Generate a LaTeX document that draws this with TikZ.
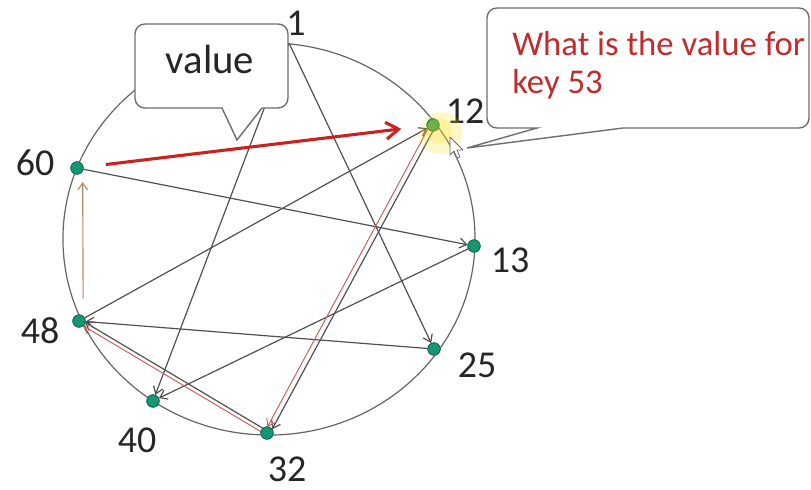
\documentclass[tikz,border=0pt]{standalone}
\usepackage{fontspec}
\setmainfont{Carlito}
\usetikzlibrary{arrows.meta}
\definecolor{edgegray}{RGB}{80,80,80}
\definecolor{ringgray}{RGB}{100,100,100}
\definecolor{dotgreen}{RGB}{22,150,115}
\definecolor{dotedge}{RGB}{15,100,80}
\definecolor{pathred}{RGB}{200,35,30}
\definecolor{thinred}{RGB}{205,95,90}
\definecolor{upbrown}{RGB}{190,130,105}
\definecolor{qred}{RGB}{192,45,45}
\definecolor{boxgray}{RGB}{110,110,110}
\begin{document}
\begin{tikzpicture}[x=0.025cm,y=-0.025cm,
  dot/.style={circle,fill=dotgreen,draw=dotedge,line width=0.5pt,inner sep=0pt,minimum size=0.31cm},
  lbl/.style={font=\fontsize{27}{27}\selectfont,text=black!85,anchor=base,inner sep=0pt},
  finger/.style={draw=edgegray,line width=0.85pt,-{Straight Barb[length=5pt,width=7pt]}},
  hop/.style={draw=thinred,line width=0.7pt,-{Straight Barb[length=5pt,width=7pt]}},
  reply/.style={draw=pathred,line width=2.2pt,-{Straight Barb[length=9pt,width=12pt]}},
  upward/.style={draw=upbrown,line width=0.8pt,-{Straight Barb[length=5pt,width=7pt]}},
  callout/.style={draw=boxgray,fill=white,line width=1pt},
]
\useasboundingbox (0,0) rectangle (811,489);

% ring
\draw[ringgray,line width=0.85pt] (269,239) ellipse [x radius=5.15cm, y radius=4.9cm];

% nodes
\coordinate (n1) at (289,43);
\node[dot] (n12) at (433,125) {};
\node[dot] (n13) at (474,246) {};
\node[dot] (n25) at (434,349) {};
\node[dot] (n32) at (267,433) {};
\node[dot] (n40) at (153,401) {};
\node[dot] (n48) at (79,321) {};
\node[dot] (n60) at (77,168) {};

% finger edges
\draw[finger] (n1) -- (n25);
\draw[finger] (n1) -- (n40);
\draw[finger] (n60) -- (n13);
\draw[finger] (n48) -- (n12);
\draw[finger] (n25) -- (n48);
\draw[finger] (n13) -- (n40);
\draw[finger,shorten <=4pt,shorten >=4pt] ([xshift=1.8pt,yshift=-0.8pt]n12.center) -- ([xshift=1.8pt,yshift=-0.8pt]n32.center);
\draw[finger,shorten <=4pt,shorten >=4pt] ([xshift=0.7pt,yshift=1.2pt]n32.center) -- ([xshift=0.7pt,yshift=1.2pt]n48.center);

% lookup path
\draw[hop,shorten <=4pt,shorten >=4pt] ([xshift=-1.6pt,yshift=0.8pt]n12.center) -- ([xshift=-1.6pt,yshift=0.8pt]n32.center);
\draw[hop,shorten <=4pt,shorten >=4pt] ([xshift=-0.7pt,yshift=-1.2pt]n32.center) -- ([xshift=-0.7pt,yshift=-1.2pt]n48.center);
\draw[upward,shorten <=16pt,shorten >=10pt] ([xshift=3pt]n48.center) -- ([xshift=4pt]n60.center);
\draw[reply,shorten <=16pt,shorten >=18pt] (n60) -- (n12);

% redraw dots on top
\foreach \n/\p in {a/{(433,125)},b/{(474,246)},c/{(434,349)},d/{(267,433)},e/{(153,401)},f/{(79,321)},g/{(77,168)}}
  \node[dot] (top\n) at \p {};

% callout "value"
\draw[callout] (237,140) -- (262,108) {[rounded corners=7pt] -- (288,108) -- (288,24) -- (135,24) -- (135,108)} -- (222,108) -- cycle;
\node[font=\fontsize{29}{29}\selectfont,anchor=base,text=black!85,inner sep=0pt] (val) at (210,73) {value};

% callout question
\draw[callout] (467,148) -- (623,128) {[rounded corners=7pt] -- (809,128) -- (809,8) -- (487,8) -- (487,128)} -- (537,128) -- cycle;
\node[anchor=base west,text=qred,font=\fontsize{24.7}{24.7}\selectfont,inner sep=0pt] (q1) at (512,55) {What is the value for};
\node[anchor=base west,text=qred,font=\fontsize{24.7}{24.7}\selectfont,inner sep=0pt] (q2) at (512,93) {key 53};

% labels
\node[lbl] (l1) at (296,35) {1};
\node[lbl] (l12) at (465,123) {12};
\node[lbl] (l13) at (510,272) {13};
\node[lbl] (l25) at (477,377) {25};
\node[lbl] (l32) at (287,481) {32};
\node[lbl] (l40) at (137,452) {40};
\node[lbl] (l48) at (40,343) {48};
\node[lbl] (l60) at (35,175) {60};

% highlight glow and cursor
\fill[yellow!80!orange,opacity=0.22] (441,133) circle[radius=15pt];
\fill[yellow!80!orange,opacity=0.22] (439,131) circle[radius=9pt];
\draw[fill=white,draw=boxgray,line width=0.6pt,line join=round] (450,137) -- (450,155) -- (454,151) -- (457,158) -- (460,157) -- (457,150) -- (463,150) -- cycle;
\end{tikzpicture}
\end{document}
